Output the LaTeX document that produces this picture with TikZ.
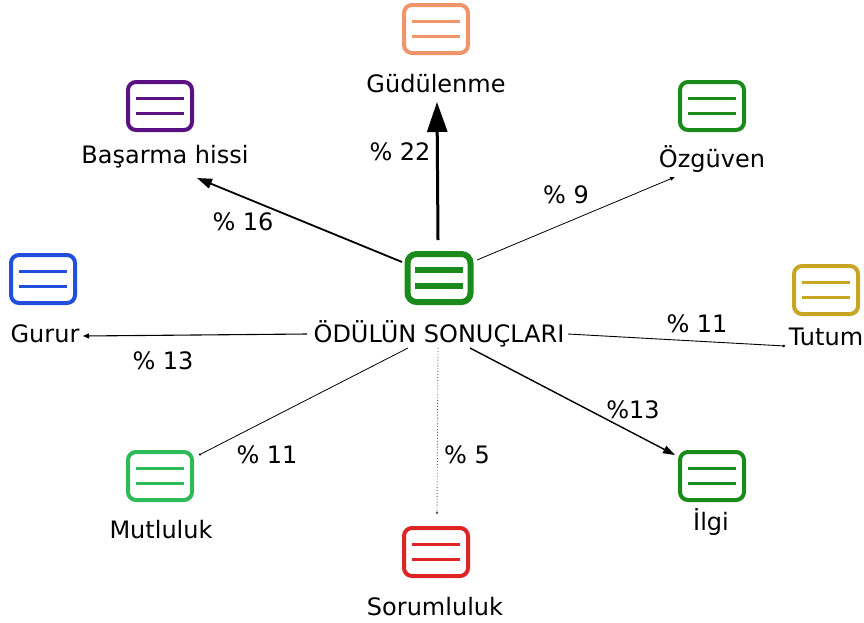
\documentclass[tikz,border=0pt]{standalone}
\usepackage{fontspec}
\setmainfont{DejaVu Sans}
\usetikzlibrary{arrows.meta,calc}
\definecolor{cgreen}{HTML}{1A8A1A}
\definecolor{corange}{HTML}{F0946A}
\definecolor{cpurple}{HTML}{5A1282}
\definecolor{cblue}{HTML}{1F4FDC}
\definecolor{cgold}{HTML}{C9A524}
\definecolor{clgreen}{HTML}{2DBB5A}
\definecolor{cred}{HTML}{E02424}
\tikzset{
  icon/.style={draw=#1, line width=4, rounded corners=8, minimum width=64, minimum height=48, inner sep=0,
    path picture={
      \draw[#1, line width=3.8] ([shift={(-24,7.5)}]path picture bounding box.center) -- ++(48,0);
      \draw[#1, line width=3.8] ([shift={(-24,-7.5)}]path picture bounding box.center) -- ++(48,0);
    }},
  bigicon/.style={draw=cgreen, line width=6, rounded corners=9, minimum width=63, minimum height=48, inner sep=0,
    path picture={
      \draw[cgreen, line width=6] ([shift={(-24,8)}]path picture bounding box.center) -- ++(48,0);
      \draw[cgreen, line width=6] ([shift={(-24,-8)}]path picture bounding box.center) -- ++(48,0);
    }},
  lbl/.style={anchor=base, inner sep=0, font=\fontsize{24}{29}\selectfont},
  conn/.style={black},
}
\begin{document}
\begin{tikzpicture}[x=1pt,y=1pt]
\useasboundingbox (0,0) rectangle (864,-622);
% icons
\node[bigicon] (cicon) at (439,-278) {};
\node[icon=corange] (igud) at (436,-29) {};
\node[icon=cpurple] (ibas) at (160,-106) {};
\node[icon=cgreen] (iozg) at (712,-106) {};
\node[icon=cblue] (igur) at (43,-279) {};
\node[icon=cgold] (itut) at (826,-290) {};
\node[icon=clgreen] (imut) at (160,-476) {};
\node[icon=cred] (isor) at (436,-552) {};
\node[icon=cgreen] (iilg) at (712,-476) {};
% labels
\node[lbl] (lcen) at (439,-342) {ÖDÜLÜN SONUÇLARI};
\node[lbl] (lgud) at (436,-92) {Güdülenme};
\node[lbl] (lbas) at (165,-163) {Başarma hissi};
\node[lbl] (lozg) at (712,-167) {Özgüven};
\node[lbl] (lgur) at (45,-342) {Gurur};
\node[lbl] (ltut) at (826,-345) {Tutum};
\node[lbl] (lmut) at (161,-538) {Mutluluk};
\node[lbl] (lsor) at (435,-615) {Sorumluluk};
\node[lbl] (lilg) at (711,-530) {İlgi};
% percentages
\node[lbl] (p1) at (400,-160) {\% 22};
\node[lbl] (p2) at (243,-230) {\% 16};
\node[lbl] (p3) at (566,-203) {\% 9};
\node[lbl] (p4) at (163,-369) {\% 13};
\node[lbl] (p5) at (697,-332) {\% 11};
\node[lbl] (p6) at (267,-463) {\% 11};
\node[lbl] (p7) at (467,-463) {\% 5};
\node[lbl] (p8) at (633,-418) {\%13};
% connectors
\draw[conn, line width=3, -{Triangle[length=30,width=20]}]
  ($(cicon.north)+(-1,11)$) -- ($(lgud.base)+(1,-10)$);
\draw[conn, line width=1.8, -{Triangle[length=15,width=10]}]
  ($(cicon.center)+(-37,16)$) -- ($(lbas.base)+(32,-15)$);
\draw[conn, line width=0.8, -{Triangle[length=5,width=3.5]}]
  ($(cicon.center)+(38,18)$) -- ($(lozg.base)+(-37,-10)$);
\draw[conn, line width=1.1, -{Triangle[length=6,width=5]}]
  ($(lcen.base)+(-132,8)$) -- ($(lgur.base)+(38,6)$);
\draw[conn, line width=0.9, -{Circle[length=2.5]}]
  ($(lcen.base)+(129,8)$) -- ($(ltut.base)+(-41,-1)$);
\draw[conn, line width=0.8, -{Circle[length=2]}]
  ($(lcen.base)+(-31,-6)$) -- ($(imut.center)+(39,21)$);
\draw[conn, gray!70!black, line width=0.9, dotted, -{Circle[length=2.5]}]
  ($(lcen.base)+(-1,-6)$) -- ($(isor.center)+(1,38)$);
\draw[conn, line width=1.4, -{Triangle[length=12,width=8]}]
  ($(lcen.base)+(31,-6)$) -- ($(iilg.center)+(-37,21)$);
\end{tikzpicture}
\end{document}
